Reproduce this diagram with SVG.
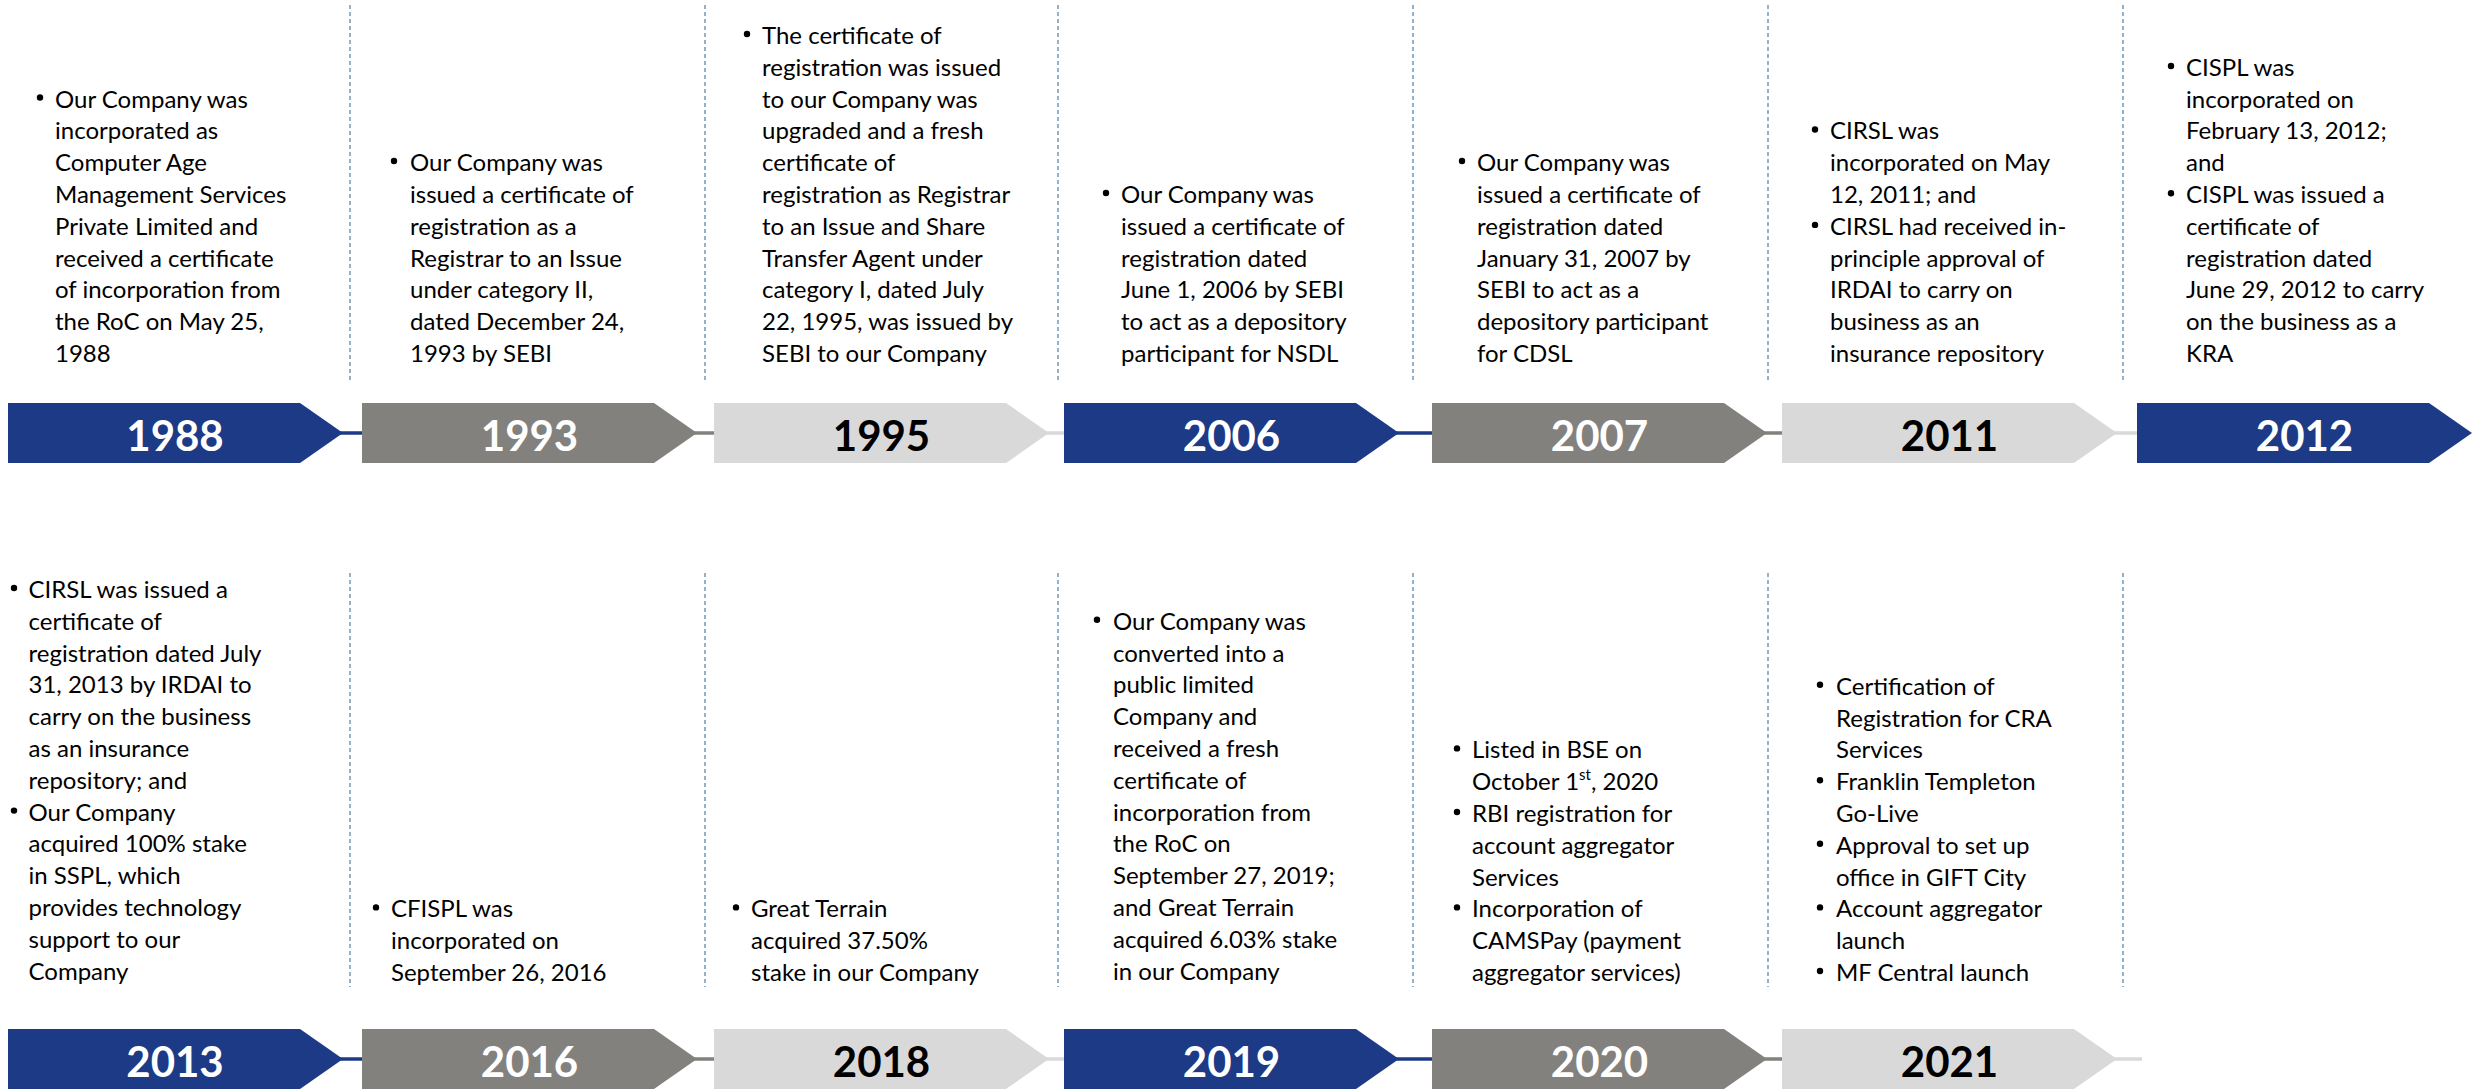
<svg xmlns="http://www.w3.org/2000/svg" width="2483" height="1091" viewBox="0 0 2483 1091">
  <style>
    .navy { fill: #1c3a85; }
    .grey { fill: #83817e; }
    .light { fill: #d9d9d9; }
    .yr { font-family: Lato, "Liberation Sans", sans-serif; font-weight: 700; font-size: 42px; text-anchor: middle; }
    .yr-w { fill: #ffffff; }
    .yr-k { fill: #000000; }
    .desc { font-family: Lato, "Liberation Sans", sans-serif; font-size: 24px; fill: #000000; }
    .sup { font-size: 15px; }
    .dot { fill: #000000; }
    .sep { stroke: #4f7fa8; stroke-width: 1.2; stroke-dasharray: 4 3; fill: none; }
    .ln-navy { stroke: #1c3a85; stroke-width: 3.5; }
    .ln-grey { stroke: #83817e; stroke-width: 3.5; }
    .ln-light { stroke: #d9d9d9; stroke-width: 3.5; }
  </style>
  <defs>
    <!-- chevron: 292 wide body, 43 px point, 60 tall -->
    <path id="chev" d="M0,0 H292 L335,30 L292,60 H0 Z"/>
  </defs>

  <rect width="2483" height="1091" fill="#ffffff"/>

  <!-- column separators -->
  <g id="separators">
    <line class="sep" x1="350" y1="5" x2="350" y2="383"/>
    <line class="sep" x1="705" y1="5" x2="705" y2="383"/>
    <line class="sep" x1="1058" y1="5" x2="1058" y2="383"/>
    <line class="sep" x1="1413" y1="5" x2="1413" y2="383"/>
    <line class="sep" x1="1768" y1="5" x2="1768" y2="383"/>
    <line class="sep" x1="2123" y1="5" x2="2123" y2="383"/>
    <line class="sep" x1="350" y1="573" x2="350" y2="987"/>
    <line class="sep" x1="705" y1="573" x2="705" y2="987"/>
    <line class="sep" x1="1058" y1="573" x2="1058" y2="987"/>
    <line class="sep" x1="1413" y1="573" x2="1413" y2="987"/>
    <line class="sep" x1="1768" y1="573" x2="1768" y2="987"/>
    <line class="sep" x1="2123" y1="573" x2="2123" y2="987"/>
  </g>

  <!-- links between chevrons -->
  <g id="connectors">
    <line class="ln-navy" x1="340" y1="433" x2="364" y2="433"/>
    <line class="ln-grey" x1="694" y1="433" x2="716" y2="433"/>
    <line class="ln-light" x1="1046" y1="433" x2="1066" y2="433"/>
    <line class="ln-navy" x1="1396" y1="433" x2="1434" y2="433"/>
    <line class="ln-grey" x1="1764" y1="433" x2="1784" y2="433"/>
    <line class="ln-light" x1="2114" y1="433" x2="2141" y2="433"/>
    <line class="ln-navy" x1="340" y1="1059" x2="364" y2="1059"/>
    <line class="ln-grey" x1="694" y1="1059" x2="716" y2="1059"/>
    <line class="ln-light" x1="1046" y1="1059" x2="1066" y2="1059"/>
    <line class="ln-navy" x1="1396" y1="1059" x2="1434" y2="1059"/>
    <line class="ln-grey" x1="1764" y1="1059" x2="1784" y2="1059"/>
    <line class="ln-light" x1="2114" y1="1059" x2="2142" y2="1059"/>
  </g>

  <!-- ===== upper row ===== -->
  <g id="y1988">
    <use href="#chev" class="navy" x="8" y="403"/>
    <text class="yr yr-w" x="175" y="451">1988</text>
    <circle class="dot" cx="40" cy="97.5" r="3.2"/>
    <text class="desc" x="55" y="107.6">
      <tspan x="55">Our Company was</tspan>
      <tspan x="55" dy="31.8">incorporated as</tspan>
      <tspan x="55" dy="31.8">Computer Age</tspan>
      <tspan x="55" dy="31.8">Management Services</tspan>
      <tspan x="55" dy="31.8">Private Limited and</tspan>
      <tspan x="55" dy="31.8">received a certificate</tspan>
      <tspan x="55" dy="31.8">of incorporation from</tspan>
      <tspan x="55" dy="31.8">the RoC on May 25,</tspan>
      <tspan x="55" dy="31.8">1988</tspan>
    </text>
  </g>

  <g id="y1993">
    <use href="#chev" class="grey" x="362" y="403"/>
    <text class="yr yr-w" x="529.5" y="451">1993</text>
    <circle class="dot" cx="394" cy="161" r="3.2"/>
    <text class="desc" x="410" y="171.2">
      <tspan x="410">Our Company was</tspan>
      <tspan x="410" dy="31.8">issued a certificate of</tspan>
      <tspan x="410" dy="31.8">registration as a</tspan>
      <tspan x="410" dy="31.8">Registrar to an Issue</tspan>
      <tspan x="410" dy="31.8">under category II,</tspan>
      <tspan x="410" dy="31.8">dated December 24,</tspan>
      <tspan x="410" dy="31.8">1993 by SEBI</tspan>
    </text>
  </g>

  <g id="y1995">
    <use href="#chev" class="light" x="714" y="403"/>
    <text class="yr yr-k" x="881.5" y="451">1995</text>
    <circle class="dot" cx="747" cy="34" r="3.2"/>
    <text class="desc" x="762" y="44">
      <tspan x="762">The certificate of</tspan>
      <tspan x="762" dy="31.8">registration was issued</tspan>
      <tspan x="762" dy="31.8">to our Company was</tspan>
      <tspan x="762" dy="31.8">upgraded and a fresh</tspan>
      <tspan x="762" dy="31.8">certificate of</tspan>
      <tspan x="762" dy="31.8">registration as Registrar</tspan>
      <tspan x="762" dy="31.8">to an Issue and Share</tspan>
      <tspan x="762" dy="31.8">Transfer Agent under</tspan>
      <tspan x="762" dy="31.8">category I, dated July</tspan>
      <tspan x="762" dy="31.8">22, 1995, was issued by</tspan>
      <tspan x="762" dy="31.8">SEBI to our Company</tspan>
    </text>
  </g>

  <g id="y2006">
    <use href="#chev" class="navy" x="1064" y="403"/>
    <text class="yr yr-w" x="1231.5" y="451">2006</text>
    <circle class="dot" cx="1106" cy="193" r="3.2"/>
    <text class="desc" x="1121" y="203">
      <tspan x="1121">Our Company was</tspan>
      <tspan x="1121" dy="31.8">issued a certificate of</tspan>
      <tspan x="1121" dy="31.8">registration dated</tspan>
      <tspan x="1121" dy="31.8">June 1, 2006 by SEBI</tspan>
      <tspan x="1121" dy="31.8">to act as a depository</tspan>
      <tspan x="1121" dy="31.8">participant for NSDL</tspan>
    </text>
  </g>

  <g id="y2007">
    <use href="#chev" class="grey" x="1432" y="403"/>
    <text class="yr yr-w" x="1599.5" y="451">2007</text>
    <circle class="dot" cx="1462" cy="161" r="3.2"/>
    <text class="desc" x="1477" y="171.2">
      <tspan x="1477">Our Company was</tspan>
      <tspan x="1477" dy="31.8">issued a certificate of</tspan>
      <tspan x="1477" dy="31.8">registration dated</tspan>
      <tspan x="1477" dy="31.8">January 31, 2007 by</tspan>
      <tspan x="1477" dy="31.8">SEBI to act as a</tspan>
      <tspan x="1477" dy="31.8">depository participant</tspan>
      <tspan x="1477" dy="31.8">for CDSL</tspan>
    </text>
  </g>

  <g id="y2011">
    <use href="#chev" class="light" x="1782" y="403"/>
    <text class="yr yr-k" x="1949.5" y="451">2011</text>
    <circle class="dot" cx="1815" cy="129.5" r="3.2"/>
    <circle class="dot" cx="1815" cy="224.9" r="3.2"/>
    <text class="desc" x="1830" y="139.4">
      <tspan x="1830">CIRSL was</tspan>
      <tspan x="1830" dy="31.8">incorporated on May</tspan>
      <tspan x="1830" dy="31.8">12, 2011; and</tspan>
      <tspan x="1830" dy="31.8">CIRSL had received in-</tspan>
      <tspan x="1830" dy="31.8">principle approval of</tspan>
      <tspan x="1830" dy="31.8">IRDAI to carry on</tspan>
      <tspan x="1830" dy="31.8">business as an</tspan>
      <tspan x="1830" dy="31.8">insurance repository</tspan>
    </text>
  </g>

  <g id="y2012">
    <use href="#chev" class="navy" x="2137" y="403"/>
    <text class="yr yr-w" x="2304.5" y="451">2012</text>
    <circle class="dot" cx="2171" cy="66" r="3.2"/>
    <circle class="dot" cx="2171" cy="193.2" r="3.2"/>
    <text class="desc" x="2186" y="75.8">
      <tspan x="2186">CISPL was</tspan>
      <tspan x="2186" dy="31.8">incorporated on</tspan>
      <tspan x="2186" dy="31.8">February 13, 2012;</tspan>
      <tspan x="2186" dy="31.8">and</tspan>
      <tspan x="2186" dy="31.8">CISPL was issued a</tspan>
      <tspan x="2186" dy="31.8">certificate of</tspan>
      <tspan x="2186" dy="31.8">registration dated</tspan>
      <tspan x="2186" dy="31.8">June 29, 2012 to carry</tspan>
      <tspan x="2186" dy="31.8">on the business as a</tspan>
      <tspan x="2186" dy="31.8">KRA</tspan>
    </text>
  </g>

  <!-- ===== lower row ===== -->
  <g id="y2013">
    <use href="#chev" class="navy" x="8" y="1029"/>
    <text class="yr yr-w" x="175" y="1077">2013</text>
    <circle class="dot" cx="14" cy="588" r="3.2"/>
    <circle class="dot" cx="14" cy="810.6" r="3.2"/>
    <text class="desc" x="28.5" y="598">
      <tspan x="28.5">CIRSL was issued a</tspan>
      <tspan x="28.5" dy="31.8">certificate of</tspan>
      <tspan x="28.5" dy="31.8">registration dated July</tspan>
      <tspan x="28.5" dy="31.8">31, 2013 by IRDAI to</tspan>
      <tspan x="28.5" dy="31.8">carry on the business</tspan>
      <tspan x="28.5" dy="31.8">as an insurance</tspan>
      <tspan x="28.5" dy="31.8">repository; and</tspan>
      <tspan x="28.5" dy="31.8">Our Company</tspan>
      <tspan x="28.5" dy="31.8">acquired 100% stake</tspan>
      <tspan x="28.5" dy="31.8">in SSPL, which</tspan>
      <tspan x="28.5" dy="31.8">provides technology</tspan>
      <tspan x="28.5" dy="31.8">support to our</tspan>
      <tspan x="28.5" dy="31.8">Company</tspan>
    </text>
  </g>

  <g id="y2016">
    <use href="#chev" class="grey" x="362" y="1029"/>
    <text class="yr yr-w" x="529.5" y="1077">2016</text>
    <circle class="dot" cx="376" cy="907.4" r="3.2"/>
    <text class="desc" x="391" y="917.4">
      <tspan x="391">CFISPL was</tspan>
      <tspan x="391" dy="31.8">incorporated on</tspan>
      <tspan x="391" dy="31.8">September 26, 2016</tspan>
    </text>
  </g>

  <g id="y2018">
    <use href="#chev" class="light" x="714" y="1029"/>
    <text class="yr yr-k" x="881.5" y="1077">2018</text>
    <circle class="dot" cx="736" cy="907.4" r="3.2"/>
    <text class="desc" x="751" y="917.4">
      <tspan x="751">Great Terrain</tspan>
      <tspan x="751" dy="31.8">acquired 37.50%</tspan>
      <tspan x="751" dy="31.8">stake in our Company</tspan>
    </text>
  </g>

  <g id="y2019">
    <use href="#chev" class="navy" x="1064" y="1029"/>
    <text class="yr yr-w" x="1231.5" y="1077">2019</text>
    <circle class="dot" cx="1097" cy="619.8" r="3.2"/>
    <text class="desc" x="1113" y="629.8">
      <tspan x="1113">Our Company was</tspan>
      <tspan x="1113" dy="31.8">converted into a</tspan>
      <tspan x="1113" dy="31.8">public limited</tspan>
      <tspan x="1113" dy="31.8">Company and</tspan>
      <tspan x="1113" dy="31.8">received a fresh</tspan>
      <tspan x="1113" dy="31.8">certificate of</tspan>
      <tspan x="1113" dy="31.8">incorporation from</tspan>
      <tspan x="1113" dy="31.8">the RoC on</tspan>
      <tspan x="1113" dy="31.8">September 27, 2019;</tspan>
      <tspan x="1113" dy="31.8">and Great Terrain</tspan>
      <tspan x="1113" dy="31.8">acquired 6.03% stake</tspan>
      <tspan x="1113" dy="31.8">in our Company</tspan>
    </text>
  </g>

  <g id="y2020">
    <use href="#chev" class="grey" x="1432" y="1029"/>
    <text class="yr yr-w" x="1599.5" y="1077">2020</text>
    <circle class="dot" cx="1457" cy="748.4" r="3.2"/>
    <circle class="dot" cx="1457" cy="812" r="3.2"/>
    <circle class="dot" cx="1457" cy="907.4" r="3.2"/>
    <text class="desc" x="1472" y="758.4">
      <tspan x="1472">Listed in BSE on</tspan>
      <tspan x="1472" dy="31.8">October 1<tspan class="sup" dy="-10">st</tspan><tspan dy="10">, 2020</tspan></tspan>
      <tspan x="1472" dy="31.8">RBI registration for</tspan>
      <tspan x="1472" dy="31.8">account aggregator</tspan>
      <tspan x="1472" dy="31.8">Services</tspan>
      <tspan x="1472" dy="31.8">Incorporation of</tspan>
      <tspan x="1472" dy="31.8">CAMSPay (payment</tspan>
      <tspan x="1472" dy="31.8">aggregator services)</tspan>
    </text>
  </g>

  <g id="y2021">
    <use href="#chev" class="light" x="1782" y="1029"/>
    <text class="yr yr-k" x="1949.5" y="1077">2021</text>
    <circle class="dot" cx="1820" cy="684.8" r="3.2"/>
    <circle class="dot" cx="1820" cy="780.2" r="3.2"/>
    <circle class="dot" cx="1820" cy="843.8" r="3.2"/>
    <circle class="dot" cx="1820" cy="907.4" r="3.2"/>
    <circle class="dot" cx="1820" cy="971" r="3.2"/>
    <text class="desc" x="1836" y="694.8">
      <tspan x="1836">Certification of</tspan>
      <tspan x="1836" dy="31.8">Registration for CRA</tspan>
      <tspan x="1836" dy="31.8">Services</tspan>
      <tspan x="1836" dy="31.8">Franklin Templeton</tspan>
      <tspan x="1836" dy="31.8">Go-Live</tspan>
      <tspan x="1836" dy="31.8">Approval to set up</tspan>
      <tspan x="1836" dy="31.8">office in GIFT City</tspan>
      <tspan x="1836" dy="31.8">Account aggregator</tspan>
      <tspan x="1836" dy="31.8">launch</tspan>
      <tspan x="1836" dy="31.8">MF Central launch</tspan>
    </text>
  </g>
</svg>
